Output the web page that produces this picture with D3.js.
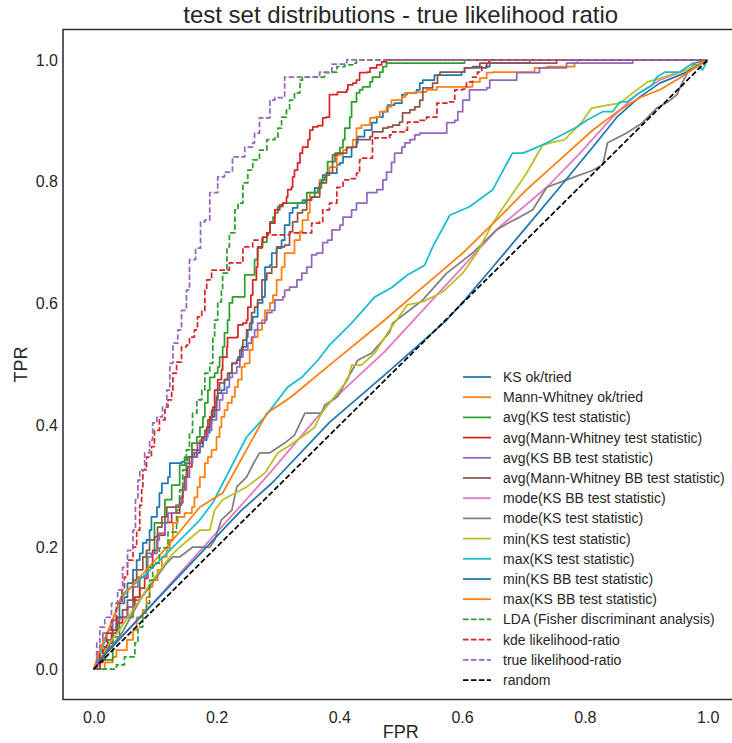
<!DOCTYPE html>
<html><head><meta charset="utf-8">
<script src="https://cdn.jsdelivr.net/npm/d3@7"></script>
<style>body{margin:0;background:#fff}svg{display:block}text{font-family:"Liberation Sans",Arial,sans-serif;fill:#262626}</style>
</head><body><svg id="c" width="732" height="743"></svg>
<script>
const titleText="test set distributions - true likelihood ratio";
const xLabel="FPR", yLabel="TPR";
const xTicks=[0,0.2,0.4,0.6,0.8,1.0];
const yTicks=[0,0.2,0.4,0.6,0.8,1.0];
const seriesNames=["KS ok/tried","Mann-Whitney ok/tried","avg(KS test statistic)","avg(Mann-Whitney test statistic)","avg(KS BB test statistic)","avg(Mann-Whitney BB test statistic)","mode(KS BB test statistic)","mode(KS test statistic)","min(KS test statistic)","max(KS test statistic)","min(KS BB test statistic)","max(KS BB test statistic)","LDA (Fisher discriminant analysis)","kde likelihood-ratio","true likelihood-ratio","random"];
const seriesColors=["#1f77b4","#ff7f0e","#2ca02c","#d62728","#9467bd","#8c564b","#e377c2","#7f7f7f","#bcbd22","#17becf","#1f77b4","#ff7f0e","#2ca02c","#d62728","#9467bd","#000000"];
const seriesDashed=[false,false,false,false,false,false,false,false,false,false,false,false,true,true,true,true];
const seriesStepped=[true,true,true,true,true,true,false,false,false,false,false,false,true,true,true,false];

const ksOkTried=[[0,0],[.010,.015],[.018,.031],[.026,.043],[.031,.064],[.039,.085],[.042,.108],[.050,.118],[.055,.141],[.064,.163],[.070,.179],[.075,.190],[.080,.207],[.086,.212],[.091,.228],[.094,.250],[.103,.266],[.107,.289],[.111,.305],[.119,.305],[.121,.315],[.124,.338],[.143,.340],[.148,.343],[.153,.348],[.164,.355],[.173,.365],[.178,.376],[.184,.388],[.189,.404],[.192,.414],[.197,.430],[.200,.447],[.202,.453],[.208,.458],[.213,.475],[.221,.486],[.225,.502],[.233,.507],[.235,.512],[.241,.529],[.249,.545],[.251,.557],[.257,.568],[.259,.578],[.267,.601],[.275,.611],[.279,.647],[.279,.660],[.287,.663],[.290,.683],[.298,.691],[.306,.704],[.311,.729],[.319,.749],[.324,.757],[.332,.765],[.340,.770],[.352,.775],[.360,.790],[.368,.798],[.373,.811],[.384,.814],[.396,.828],[.401,.831],[.406,.841],[.420,.857],[.428,.864],[.430,.874],[.441,.885],[.453,.897],[.461,.906],[.471,.915],[.479,.926],[.490,.929],[.502,.943],[.510,.946],[.526,.951],[.531,.962],[.536,.967],[.552,.967],[.555,.975],[.596,.975],[.599,.980],[.604,.987],[.640,.989],[.645,.995],[.710,.995],[.710,1],[1,1]];
const mwOkTried=[[0,0],[.018,.011],[.031,.020],[.037,.031],[.047,.031],[.054,.048],[.064,.064],[.070,.085],[.080,.097],[.086,.118],[.091,.135],[.096,.146],[.104,.163],[.111,.184],[.119,.195],[.124,.212],[.129,.240],[.137,.250],[.148,.256],[.160,.266],[.164,.282],[.169,.299],[.173,.315],[.181,.338],[.186,.348],[.192,.360],[.200,.381],[.205,.397],[.208,.414],[.213,.425],[.218,.437],[.225,.447],[.230,.463],[.235,.475],[.241,.496],[.246,.502],[.254,.524],[.259,.545],[.267,.557],[.274,.573],[.279,.589],[.287,.601],[.292,.614],[.298,.639],[.306,.660],[.311,.683],[.319,.683],[.327,.704],[.336,.718],[.340,.737],[.349,.749],[.352,.782],[.363,.782],[.368,.803],[.379,.814],[.384,.824],[.396,.844],[.406,.852],[.412,.857],[.422,.869],[.428,.888],[.436,.893],[.450,.905],[.458,.906],[.466,.915],[.477,.923],[.485,.934],[.502,.939],[.507,.946],[.523,.947],[.542,.951],[.559,.956],[.612,.956],[.617,.964],[.629,.970],[.640,.979],[.650,.980],[.713,.980],[.718,.987],[.738,.989],[.780,.989],[.783,.995],[.788,1],[1,1]];
const avgKS=[[0,0],[.010,.015],[.031,.053],[.042,.085],[.064,.113],[.075,.151],[.086,.190],[.099,.240],[.116,.278],[.127,.302],[.140,.335],[.148,.348],[.160,.371],[.168,.381],[.173,.397],[.178,.414],[.181,.437],[.186,.458],[.189,.479],[.197,.486],[.202,.496],[.205,.512],[.210,.529],[.213,.552],[.218,.573],[.221,.601],[.226,.611],[.246,.611],[.246,.647],[.259,.647],[.262,.672],[.267,.691],[.274,.701],[.282,.716],[.287,.734],[.292,.742],[.295,.749],[.300,.759],[.308,.765],[.344,.767],[.347,.782],[.363,.782],[.365,.790],[.371,.803],[.376,.808],[.379,.814],[.381,.833],[.393,.847],[.401,.856],[.406,.869],[.409,.888],[.417,.906],[.420,.931],[.428,.946],[.433,.951],[.438,.956],[.450,.964],[.454,.972],[.466,.980],[.471,.989],[.477,.995],[.604,.995],[.604,1],[1,1]];
const avgMW=[[0,0],[.010,.011],[.015,.031],[.023,.043],[.029,.059],[.037,.076],[.047,.085],[.055,.102],[.067,.118],[.075,.133],[.083,.149],[.088,.167],[.096,.195],[.104,.220],[.116,.241],[.127,.256],[.140,.273],[.145,.294],[.148,.315],[.153,.332],[.160,.348],[.168,.360],[.173,.371],[.178,.381],[.184,.397],[.189,.414],[.194,.430],[.197,.458],[.202,.475],[.208,.491],[.210,.512],[.217,.529],[.218,.544],[.233,.545],[.235,.565],[.243,.568],[.249,.573],[.251,.594],[.256,.614],[.259,.639],[.265,.660],[.267,.693],[.275,.709],[.282,.716],[.287,.732],[.295,.754],[.303,.762],[.308,.765],[.314,.775],[.316,.787],[.322,.791],[.324,.808],[.327,.819],[.332,.831],[.336,.847],[.340,.857],[.349,.869],[.352,.885],[.357,.890],[.365,.892],[.373,.905],[.379,.906],[.384,.943],[.397,.947],[.412,.951],[.414,.959],[.422,.962],[.428,.967],[.433,.979],[.445,.980],[.450,.987],[.461,.992],[.469,.997],[.477,1],[1,1]];
const avgKSBB=[[0,0],[.005,.028],[.010,.039],[.015,.059],[.023,.064],[.031,.080],[.042,.085],[.055,.102],[.064,.135],[.072,.151],[.088,.184],[.094,.190],[.103,.212],[.107,.223],[.116,.240],[.121,.256],[.134,.269],[.143,.282],[.145,.294],[.151,.315],[.156,.338],[.161,.348],[.169,.360],[.173,.376],[.181,.381],[.186,.392],[.192,.409],[.200,.425],[.205,.442],[.210,.453],[.217,.463],[.221,.479],[.226,.486],[.233,.496],[.238,.512],[.243,.524],[.251,.535],[.257,.545],[.262,.557],[.267,.568],[.279,.573],[.282,.585],[.290,.589],[.295,.606],[.308,.611],[.311,.622],[.319,.627],[.331,.639],[.339,.650],[.347,.660],[.355,.680],[.363,.683],[.373,.700],[.381,.704],[.388,.721],[.401,.729],[.406,.742],[.420,.754],[.428,.765],[.436,.765],[.445,.782],[.461,.787],[.471,.803],[.477,.816],[.485,.832],[.490,.847],[.502,.857],[.507,.864],[.515,.869],[.523,.877],[.531,.880],[.567,.880],[.575,.897],[.588,.901],[.593,.915],[.601,.934],[.612,.951],[.640,.954],[.645,.967],[.682,.967],[.689,.979],[.718,.979],[.726,.987],[.764,.987],[.770,.995],[.876,.995],[.878,1],[1,1]];
const avgMWBB=[[0,0],[.010,.015],[.018,.036],[.023,.048],[.031,.064],[.037,.085],[.047,.097],[.055,.113],[.064,.146],[.070,.163],[.080,.184],[.086,.195],[.091,.212],[.099,.217],[.104,.233],[.111,.250],[.119,.266],[.132,.266],[.140,.282],[.145,.299],[.148,.315],[.151,.338],[.156,.348],[.161,.360],[.169,.371],[.176,.381],[.181,.392],[.186,.409],[.192,.425],[.200,.442],[.202,.458],[.205,.470],[.213,.475],[.218,.486],[.225,.502],[.233,.507],[.238,.524],[.243,.540],[.249,.557],[.254,.568],[.257,.585],[.262,.594],[.267,.606],[.274,.639],[.282,.650],[.290,.660],[.298,.693],[.311,.696],[.319,.718],[.324,.734],[.332,.749],[.340,.754],[.347,.770],[.355,.775],[.368,.798],[.379,.814],[.389,.844],[.397,.847],[.412,.856],[.422,.857],[.428,.869],[.450,.874],[.454,.882],[.471,.888],[.479,.890],[.487,.893],[.498,.898],[.503,.913],[.515,.918],[.523,.923],[.531,.934],[.536,.954],[.552,.962],[.560,.975],[.564,.980],[.596,.980],[.604,.987],[.617,.989],[.629,.995],[.754,.995],[.754,1],[1,1]];
const modeKSBB=[[0,0],[.010,.015],[.091,.102],[.25,.28],[.287,.322],[.384,.437],[.474,.521],[.66,.725],[.738,.791],[.792,.847],[.845,.906],[.884,.943],[.922,.967],[.966,.984],[1,1]];
const modeKS=[[0,0],[.018,.023],[.046,.059],[.075,.113],[.119,.174],[.129,.184],[.140,.184],[.161,.200],[.189,.200],[.197,.212],[.208,.245],[.225,.261],[.233,.299],[.249,.315],[.259,.335],[.270,.355],[.287,.355],[.311,.371],[.327,.384],[.344,.420],[.371,.420],[.376,.433],[.397,.447],[.430,.507],[.453,.519],[.482,.553],[.487,.568],[.536,.606],[.575,.650],[.617,.683],[.656,.721],[.678,.734],[.694,.742],[.715,.754],[.738,.791],[.770,.803],[.813,.819],[.829,.828],[.837,.864],[.868,.880],[.894,.897],[.917,.921],[.935,.931],[.950,.943],[.958,.962],[.970,.984],[.979,.995],[1,1]];
const minKS=[[0,0],[.026,.043],[.042,.064],[.096,.146],[.124,.184],[.140,.200],[.173,.228],[.189,.228],[.197,.261],[.210,.278],[.249,.299],[.279,.322],[.300,.355],[.316,.365],[.339,.381],[.360,.397],[.371,.420],[.388,.442],[.414,.475],[.420,.499],[.436,.499],[.458,.519],[.482,.557],[.511,.598],[.536,.603],[.568,.619],[.601,.650],[.624,.683],[.650,.732],[.661,.749],[.705,.814],[.731,.860],[.748,.865],[.767,.869],[.795,.898],[.811,.921],[.837,.926],[.857,.929],[.878,.946],[.902,.964],[.922,.970],[.966,.984],[.976,.989],[1,1]];
const maxKS=[[0,0],[.010,.023],[.046,.122],[.080,.151],[.119,.190],[.173,.245],[.194,.273],[.249,.381],[.279,.414],[.316,.463],[.339,.479],[.365,.507],[.384,.532],[.420,.568],[.458,.611],[.485,.626],[.511,.647],[.539,.663],[.552,.693],[.580,.745],[.612,.759],[.650,.787],[.682,.847],[.699,.847],[.721,.856],[.738,.864],[.787,.890],[.803,.901],[.829,.915],[.845,.915],[.857,.931],[.868,.931],[.889,.946],[.910,.959],[.917,.972],[.930,.980],[.954,.980],[.976,.995],[.987,.988],[.992,.984],[1,1]];
const minKSBB=[[0,0],[.010,.015],[.24,.26],[.29,.305],[.384,.405],[.474,.483],[.575,.573],[.607,.609],[.65,.66],[.705,.726],[.759,.791],[.813,.857],[.852,.906],[.889,.939],[.922,.962],[.966,.98],[1,1]];
const maxKSBB=[[0,0],[.010,.031],[.046,.118],[.119,.200],[.173,.266],[.210,.289],[.282,.420],[.322,.447],[.384,.499],[.474,.573],[.536,.627],[.601,.683],[.656,.737],[.705,.787],[.759,.836],[.813,.885],[.857,.918],[.889,.938],[.922,.951],[.954,.970],[.987,.992],[1,1]];
const lda=[[0,0],[.023,0],[.037,.007],[.050,.020],[.067,.043],[.072,.069],[.080,.092],[.086,.108],[.091,.146],[.096,.174],[.107,.199],[.121,.225],[.135,.261],[.140,.294],[.145,.327],[.151,.360],[.156,.388],[.161,.420],[.168,.442],[.176,.458],[.181,.486],[.189,.502],[.194,.545],[.197,.573],[.202,.603],[.208,.622],[.210,.650],[.217,.693],[.221,.716],[.230,.754],[.235,.765],[.243,.798],[.251,.819],[.259,.836],[.270,.852],[.282,.869],[.295,.872],[.300,.888],[.306,.906],[.314,.918],[.319,.934],[.327,.946],[.336,.967],[.340,.972],[.368,.972],[.376,.979],[.389,.980],[.396,.989],[.409,.992],[.422,.995],[.428,1],[1,1]];
const kdeLR=[[0,0],[.007,.010],[.010,.026],[.015,.036],[.021,.059],[.029,.080],[.037,.108],[.046,.130],[.050,.151],[.055,.179],[.064,.200],[.070,.228],[.075,.269],[.078,.294],[.080,.327],[.086,.348],[.094,.365],[.099,.392],[.107,.409],[.116,.430],[.121,.442],[.127,.458],[.129,.486],[.135,.504],[.143,.529],[.151,.532],[.156,.545],[.164,.557],[.169,.578],[.176,.589],[.181,.622],[.184,.639],[.192,.655],[.213,.655],[.221,.667],[.243,.693],[.259,.704],[.275,.708],[.282,.713],[.319,.716],[.344,.716],[.355,.732],[.368,.734],[.373,.754],[.384,.765],[.396,.791],[.406,.803],[.417,.805],[.428,.814],[.433,.836],[.438,.839],[.454,.869],[.458,.872],[.482,.877],[.487,.882],[.507,.885],[.511,.898],[.531,.901],[.542,.906],[.555,.906],[.559,.929],[.575,.931],[.588,.951],[.601,.952],[.607,.962],[.612,.964],[.617,.972],[.625,.980],[.632,.989],[.640,.997],[.645,1],[1,1]];
const trueLR=[[0,0],[.005,.043],[.010,.069],[.018,.085],[.029,.108],[.039,.130],[.047,.167],[.055,.195],[.064,.228],[.068,.278],[.072,.310],[.075,.327],[.083,.355],[.091,.376],[.096,.404],[.103,.414],[.112,.430],[.119,.458],[.124,.502],[.129,.535],[.137,.557],[.143,.589],[.151,.622],[.156,.672],[.166,.691],[.174,.734],[.181,.737],[.189,.782],[.202,.808],[.213,.816],[.226,.841],[.246,.857],[.259,.864],[.262,.880],[.270,.905],[.287,.934],[.295,.938],[.311,.972],[.363,.972],[.368,.980],[.384,.980],[.388,.993],[.412,1],[1,1]];
const randomLine=[[0,0],[1,1]];
const seriesData=[ksOkTried,mwOkTried,avgKS,avgMW,avgKSBB,avgMWBB,modeKSBB,modeKS,minKS,maxKS,minKSBB,maxKSBB,lda,kdeLR,trueLR,randomLine];

(function(){
const svg=d3.select("#c");
svg.append("rect").attr("width",732).attr("height",743).attr("fill","#fff");
const pL=63, pR=738.4, pT=29.5, pB=699.5;
const x=d3.scaleLinear().domain([-0.05,1.05]).range([pL,pR]);
const y=d3.scaleLinear().domain([-0.05,1.05]).range([pB,pT]);

svg.append("clipPath").attr("id","clip").append("rect").attr("x",pL).attr("y",pT).attr("width",pR-pL).attr("height",pB-pT);
const plot=svg.append("g").attr("clip-path","url(#clip)");
seriesData.forEach((d,i)=>{
  const line=d3.line().x(p=>x(p[0])).y(p=>y(p[1])).curve(seriesStepped[i]?d3.curveStepAfter:d3.curveLinear);
  plot.append("path").attr("d",line(d)).attr("fill","none")
    .attr("stroke",seriesColors[i]).attr("stroke-width",1.75)
    .attr("stroke-linejoin","round")
    .attr("stroke-dasharray",seriesDashed[i]?"5.55,2.4":null);
});

svg.append("path").attr("d",`M${pR+5},${pT}H${pL}V${pB}H${pR+5}`).attr("fill","none").attr("stroke","#333").attr("stroke-width",1.6);

const xa=svg.append("g").attr("transform",`translate(0,${pB})`).call(d3.axisBottom(x).tickValues(xTicks).tickSize(0).tickPadding(12).tickFormat(d3.format(".1f")));
const ya=svg.append("g").attr("transform",`translate(${pL},0)`).call(d3.axisLeft(y).tickValues(yTicks).tickSize(0).tickPadding(5).tickFormat(d3.format(".1f")));
[xa,ya].forEach(a=>{a.select(".domain").remove();a.selectAll("text").attr("font-size",16).attr("font-family","Liberation Sans, Arial, sans-serif").attr("fill","#262626");});

svg.append("text").attr("x",(pL+pR)/2).attr("y",23).attr("text-anchor","middle").attr("font-size",24).text(titleText);
svg.append("text").attr("x",(pL+pR)/2).attr("y",738).attr("text-anchor","middle").attr("font-size",18).text(xLabel);
svg.append("text").attr("transform",`translate(27,${(pT+pB)/2}) rotate(-90)`).attr("text-anchor","middle").attr("font-size",18).text(yLabel);

const lg=svg.append("g");
seriesNames.forEach((n,i)=>{
  const yy=377+i*20.2;
  lg.append("line").attr("x1",463).attr("x2",491).attr("y1",yy).attr("y2",yy)
    .attr("stroke",seriesColors[i]).attr("stroke-width",1.75)
    .attr("stroke-dasharray",seriesDashed[i]?"5.55,2.4":null);
  lg.append("text").attr("x",503).attr("y",yy+5).attr("font-size",14).text(n);
});
})();
</script></body></html>
